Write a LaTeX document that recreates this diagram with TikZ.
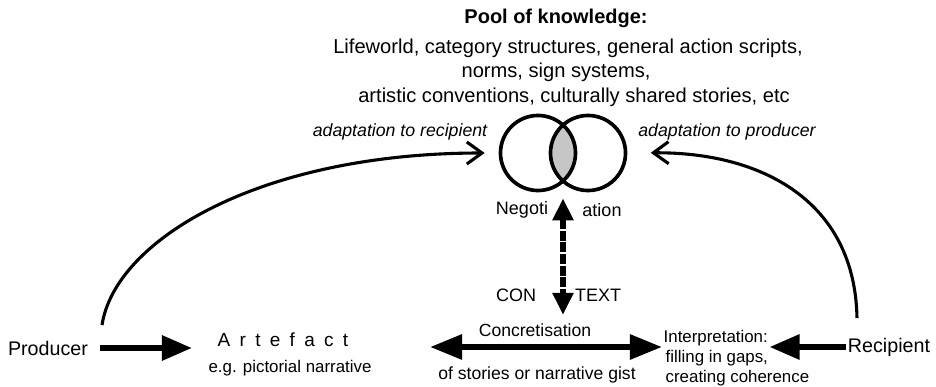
\documentclass[tikz,border=0pt]{standalone}
\usepackage{fontspec}
\setmainfont{Liberation Sans}
\usetikzlibrary{arrows.meta,calc}

\begin{document}
\begin{tikzpicture}[x=0.025cm, y=-0.025cm,
		txt/.style={font=\fontsize{12}{14}\selectfont, inner sep=1pt},
		midtxt/.style={font=\fontsize{12.8}{15}\selectfont, inner sep=1pt},
		bigtxt/.style={font=\fontsize{14}{17}\selectfont, inner sep=1pt},
		pooltxt/.style={font=\fontsize{14.3}{17}\selectfont, inner sep=1pt},
		adapt/.style={font=\fontsize{12.6}{15}\selectfont\itshape, inner sep=1pt},
		fatarrow/.style={line width=4.2pt, -{Triangle[length=0.75cm,width=0.6cm]}},
		fatboth/.style={line width=4.2pt, {Triangle[length=0.8cm,width=0.6cm]}-{Triangle[length=0.8cm,width=0.6cm]}},
		dasharrow/.style={line width=3.8pt, dash pattern=on 7pt off 1.3pt, {Triangle[length=0.55cm,width=0.5cm]}-{Triangle[length=0.55cm,width=0.5cm]}},
		bowarrow/.style={line width=2.2pt, -{Straight Barb[length=0.38cm,width=0.55cm]}},
		ring/.style={circle, draw, line width=2.6pt, minimum size=1.875cm, inner sep=0pt}]
	\useasboundingbox (0,0) rectangle (936,387);

	% pool of knowledge
	\node[font=\fontsize{14.2}{17}\selectfont\bfseries, inner sep=1pt] (pool) at (556,18) {Pool of knowledge:};
	\node[pooltxt] (know1) at (568,48) {Lifeworld, category structures, general action scripts,};
	\node[pooltxt] (know2) at (556,72) {norms, sign systems,};
	\node[pooltxt] (know3) at (574,97) {artistic conventions, culturally shared stories, etc};

	% overlapping circles
	\begin{scope}
		\clip (538,153) circle (0.9375cm);
		\fill[gray!45] (588,153) circle (0.9375cm);
	\end{scope}
	\node[ring] (leftring) at (538,153) {};
	\node[ring] (rightring) at (588,153) {};
	\coordinate (lens) at ($(leftring)!0.5!(rightring)$);

	\node[midtxt] (negoti) at (522,210) {Negoti};
	\node[midtxt] (ation) at (602,210) {ation};
	\node[midtxt] (con) at (516,295) {CON};
	\node[midtxt] (text) at (598,295) {TEXT};

	% bottom row
	\node[bigtxt] (producer) at (48,348) {Producer};
	\node[bigtxt, font=\fontsize{13.5}{16}\selectfont\addfontfeature{LetterSpace=49}, anchor=west] (artefact) at (216,340) {Artefact};
	\node[txt] (eg) at (290,368) {e.g. pictorial narrative};
	\node[txt, font=\fontsize{12.5}{15}\selectfont] (conc) at (535,330) {Concretisation};
	\node[txt, font=\fontsize{12.5}{15}\selectfont] (stories) at (537,375) {of stories or narrative gist};
	\node[txt, anchor=west] (interp) at (662,338) {Interpretation:};
	\node[txt, anchor=west, align=left] (gaps) at (664,368) {filling in gaps,\\creating coherence};
	\node[bigtxt] (recipient) at (889,347) {Recipient};
	\coordinate (concleft) at (430,347);

	\node[adapt] (torecipient) at (400,132) {adaptation to recipient};
	\node[adapt] (toproducer) at (727,132) {adaptation to producer};

	% connectors
	\draw[fatarrow, shorten <=0.25cm, shorten >=0.6cm] (producer.east) -- (producer.east -| artefact.west);
	\draw[fatboth] (concleft) -- (concleft -| interp.west);
	\draw[fatarrow] (recipient.west) -- (recipient.west -| interp.east);
	\draw[dasharrow, shorten <=0.15cm, shorten >=0.175cm] (lens |- leftring.south) -- (lens |- conc.north);
	\draw[bowarrow, shorten >=0.35cm] ([xshift=1.35cm,yshift=0.35cm]producer.north) .. controls (115,240) and (260,153) .. (leftring.west);
	\draw[bowarrow, shorten >=0.585cm] ([xshift=-0.8cm,yshift=0.45cm]recipient.north) .. controls (855,200) and (760,152) .. (rightring.east);
\end{tikzpicture}
\end{document}
